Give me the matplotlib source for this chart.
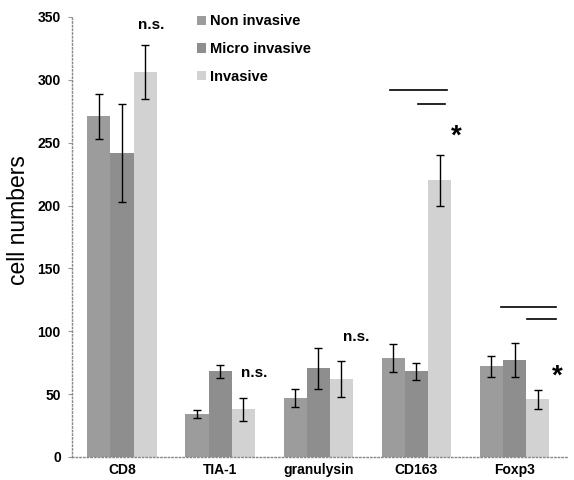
import numpy as np
import matplotlib
matplotlib.use("Agg")
import matplotlib.pyplot as plt

plt.rcParams["font.family"] = ["Liberation Sans", "DejaVu Sans"]

categories = ["CD8", "TIA-1", "granulysin", "CD163", "Foxp3"]
series = ["Non invasive", "Micro invasive", "Invasive"]
non_invasive = [271, 34, 47, 78.5, 72]
micro_invasive = [242, 68, 70.5, 68, 77]
invasive = [306, 38, 62, 220, 46]
non_err = [18, 3, 7, 11, 8.5]
micro_err = [39, 5, 16.5, 7, 13.5]
inv_err = [21.5, 9, 14.5, 20, 7.5]

colors = ["#9c9c9c", "#8e8e8e", "#d2d2d2"]

fig = plt.figure(figsize=(5.74, 4.80), dpi=100)
ax = fig.add_axes([0.1254, 0.048, 0.865, 0.9166])

x = np.arange(len(categories))
w = 0.236
handles = []
for i, (vals, errs) in enumerate(zip([non_invasive, micro_invasive, invasive],
                                     [non_err, micro_err, inv_err])):
    b = ax.bar(x + (i - 1) * w, vals, w, color=colors[i], label=series[i],
               yerr=errs, capsize=3, error_kw=dict(ecolor="black", elinewidth=1, capthick=1))
    handles.append(b)

ax.set_ylim(0, 350)
ax.set_xlim(-0.51, 4.55)
ax.set_yticks(range(0, 351, 50))
ax.set_xticks(x)
ax.set_xticklabels(categories, fontsize=10, fontweight="bold")
for t in ax.get_yticklabels():
    t.set_fontsize(10)
    t.set_fontweight("bold")
ax.tick_params(axis="x", length=0, pad=4)
ax.tick_params(axis="y", length=3, color="#999999", pad=5)
ax.set_ylabel("cell numbers", fontsize=16.5)
ax.yaxis.set_label_coords(-0.084, 0.539)

for s in ["top", "right"]:
    ax.spines[s].set_visible(False)
for s in ["left", "bottom"]:
    ax.spines[s].set_linestyle(":")
    ax.spines[s].set_color("#888888")
    ax.spines[s].set_linewidth(1)

# significance annotations
ax.text(0.3, 344, "n.s.", ha="center", va="center", fontsize=11, fontweight="bold")
ax.text(1.35, 66.7, "n.s.", ha="center", va="center", fontsize=11, fontweight="bold")
ax.text(2.39, 95.5, "n.s.", ha="center", va="center", fontsize=11, fontweight="bold")

ax.plot([2.73, 3.31], [291.6, 291.6], color="black", lw=1.2)
ax.plot([3.02, 3.29], [280.4, 280.4], color="black", lw=1.2)
ax.text(3.41, 255, "*", ha="center", va="center", fontsize=20, fontweight="bold")
ax.plot([3.86, 4.42], [119.4, 119.4], color="black", lw=1.2)
ax.plot([4.13, 4.42], [109.8, 109.8], color="black", lw=1.2)
ax.text(4.44, 64, "*", ha="center", va="center", fontsize=20, fontweight="bold")

leg = ax.legend(handles=handles, loc="upper left", bbox_to_anchor=(0.226, 1.036),
                frameon=False, handlelength=0.6, handleheight=0.6, handletextpad=0.3,
                labelspacing=0.95, prop={"size": 10.5, "weight": "bold"})

fig.savefig("out.png", dpi=100)
